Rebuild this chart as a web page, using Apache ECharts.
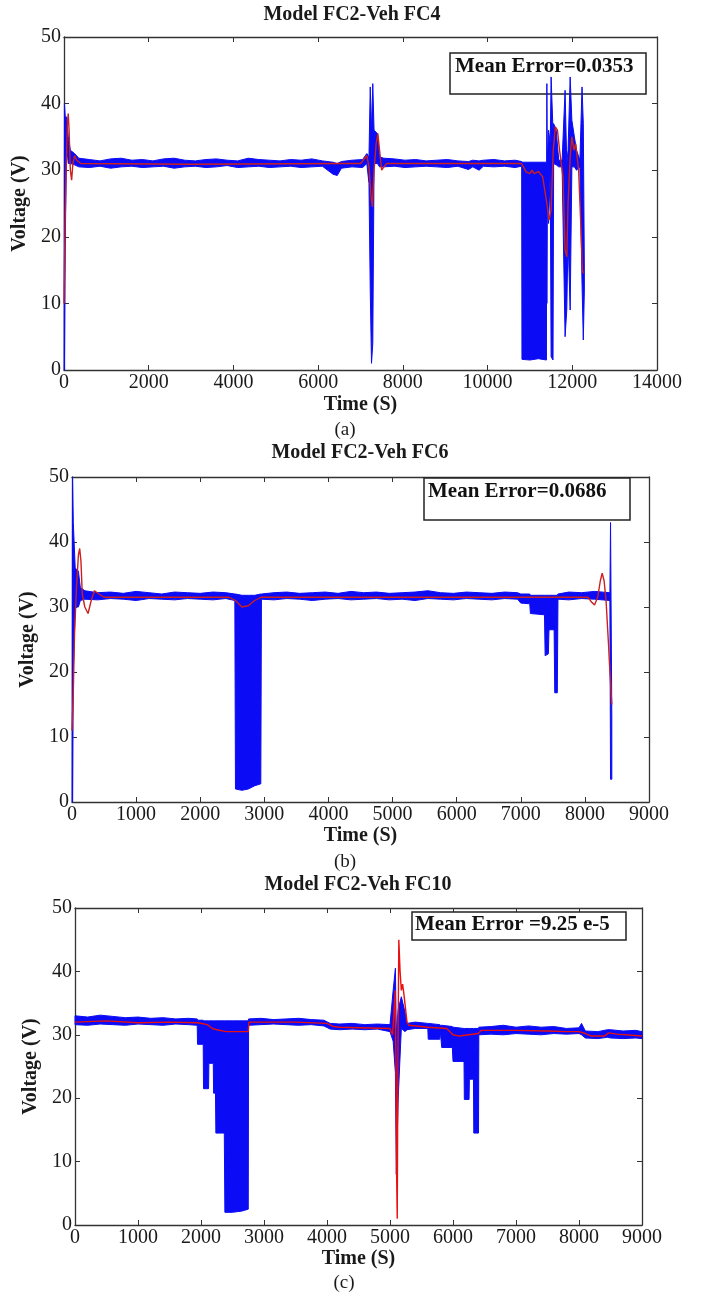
<!DOCTYPE html>
<html>
<head>
<meta charset="utf-8">
<script src="https://cdn.jsdelivr.net/npm/echarts@6/dist/echarts.min.js"></script>
<style>
  html, body { margin: 0; padding: 0; background: #fff; }
  #chart { width: 705px; height: 1295px; }
</style>
</head>
<body>
<div id="chart"></div>
<script>
// ---- (a) Model FC2-Veh FC4 ----
// measured voltage, drawn as lower / upper envelope of the noisy signal
const timeA = [0, 10, 30, 60, 100, 150, 250, 350,
  600, 850, 1100, 1350, 1600, 1850, 2100, 2350, 2600, 2850, 3100, 3350, 3600, 3850, 4100, 4350, 4600, 4850, 5100, 5350, 5600, 5850, 6100, 6350, 6450, 6550, 6800, 7050,
  7150, 7200, 7230, 7260, 7290, 7320, 7400, 7450, 7550,
  7800, 8050, 8300, 8550, 8800, 9050, 9300, 9550, 9650, 9800, 9900, 10150, 10400, 10650, 10805,
  10812, 11000, 11200, 11390,
  11395, 11400, 11410, 11440, 11480, 11500, 11545, 11560, 11620, 11680, 11760, 11830, 11870, 11900, 11950, 11990, 12050, 12100, 12180, 12230, 12260, 12285];
const lowA = [0, 0, 19, 34, 31, 31, 30.8, 30.5,
  30.4, 30.6, 30.3, 30.5, 30.6, 30.4, 30.5, 30.6, 30.3, 30.5, 30.6, 30.4, 30.5, 30.7, 30.4, 30.5, 30.6, 30.4, 30.5, 30.6, 30.4, 30.5, 30.6, 29.4, 29.2, 30.3, 30.5, 30.4,
  31, 28, 12, 1, 4, 31, 31, 30.5, 30.5,
  30.6, 30.4, 30.5, 30.6, 30.5, 30.4, 30.6, 30.1, 30.5, 30, 30.6, 30.5, 30.6, 30.4, 30.6,
  1.6, 1.5, 1.7, 1.5,
  30.5, 10, 25, 22, 30, 2, 1.5, 31, 30.8, 30.5, 30.5, 5, 9, 20, 9, 30.5, 30.5, 30, 30.5, 13, 4.5, 12];
const highA = [0, 40, 38, 38, 35, 33, 32.5, 31.8,
  31.6, 31.4, 31.7, 31.8, 31.5, 31.6, 31.4, 31.7, 31.8, 31.5, 31.4, 31.6, 31.7, 31.5, 31.4, 31.8, 31.6, 31.5, 31.4, 31.6, 31.5, 31.7, 31.4, 31.2, 31, 31.3, 31.5, 31.6,
  32.5, 32, 42.5, 36, 43, 36, 35.5, 32, 31.8,
  31.7, 31.5, 31.6, 31.4, 31.5, 31.6, 31.4, 31.3, 31.5, 31.4, 31.5, 31.6, 31.4, 31.5, 31.3,
  31.2, 31.2, 31.2, 31.2,
  31.2, 43, 31, 36, 34, 44, 36, 37, 36, 31.5, 31.5, 42, 31, 33, 44, 37.5, 35, 33, 31.5, 42.5, 37, 15];
// model output
const modelTimeA = [0, 20, 50, 80, 100, 120, 150, 180, 210, 250, 300, 400, 3000, 6500, 7000, 7100, 7150, 7200, 7250, 7280,
  7320, 7370, 7410, 7450, 7500, 7550, 7620, 10800, 10850, 10900, 11000, 11050, 11100, 11200, 11300, 11400, 11450, 11500, 11550, 11600,
  11650, 11700, 11780, 11830, 11870, 11900, 11950, 11990, 12040, 12080, 12150, 12200, 12240, 12260];
const modelA = [10, 20, 30, 37, 38.5, 36, 30, 28.5, 31, 32.2, 31.5, 31, 30.9, 31, 31, 31.8, 32.2, 30.5, 26, 24.5,
  30, 34, 35.5, 33, 30, 30.5, 31, 31, 30.5, 29.8, 29.5, 30, 29.5, 29.8, 29, 25, 22.5, 24, 33, 36.5,
  36, 33, 29, 18, 17, 25, 32, 35, 33, 34, 30, 22, 15, 14.5];

// ---- (b) Model FC2-Veh FC6 ----
const timeB = [0, 8, 20, 50, 100, 130, 200,
  400, 600, 800, 1000, 1200, 1400, 1600, 1800, 2000, 2200, 2400, 2540,
  2550, 2650, 2750, 2850, 2945,
  2955, 3150, 3350, 3550, 3750, 3950, 4150, 4350, 4550, 4750, 4950, 5150, 5350, 5550, 5750, 5950, 6150, 6350, 6550, 6750, 6950,
  7000, 7140, 7150, 7370, 7380, 7430, 7440, 7520, 7530, 7570, 7580,
  7750, 7950, 8150, 8390, 8400, 8420];
const lowB = [0, 0, 20, 30, 30, 31, 31.2,
  31.1, 31.3, 31.2, 31.0, 31.3, 31.2, 31.1, 31.3, 31.2, 31.1, 31.3, 31,
  2, 1.8, 2, 2.5, 2.8,
  31.2, 31.1, 31.3, 31.2, 31.0, 31.2, 31.3, 31.1, 31.2, 31.3, 31.1, 31.2, 31.0, 31.3, 31.2, 31.1, 31.3, 31.2, 31.1, 31.3, 31.2,
  30.6, 30.5, 29, 28.8, 22.5, 22.8, 26.5, 26.5, 16.8, 16.8, 31.2,
  31.1, 31.3, 31.2, 31, 3.5, 3.5];
const highB = [0, 50, 43, 36, 35.5, 33, 32.5,
  32.2, 32.3, 32.1, 32.4, 32.2, 32.0, 32.3, 32.2, 32.1, 32.3, 32.2, 32,
  32, 31.8, 31.8, 31.8, 32,
  32, 32.2, 32.3, 32.1, 32.2, 32.3, 32.1, 32.4, 32.2, 32.3, 32.1, 32.2, 32.3, 32.5, 32.2, 32.1, 32.3, 32.2, 32.1, 32.3, 32.2,
  32, 32, 31.8, 31.8, 31.8, 31.8, 31.8, 31.8, 31.8, 31.8, 32,
  32.3, 32.2, 32.4, 32.2, 43, 13];
const modelTimeB = [0, 20, 40, 70, 100, 120, 140, 160, 200, 250, 300, 350, 420, 500, 2450, 2550, 2650, 2750, 2850, 2950,
  8050, 8100, 8150, 8200, 8240, 8270, 8300, 8330, 8370, 8390, 8420];
const modelB = [11, 17, 26, 33, 38, 39, 37, 32, 30, 29, 31, 32.5, 32, 31.5, 31.5, 31, 30, 30.2, 31, 31.5,
  31.5, 30.8, 30.3, 31.5, 34, 35.2, 34, 31, 24, 20, 15];

// ---- (c) Model FC2-Veh FC10 ----
const timeC = [0, 200, 400, 600, 800, 1000, 1200, 1400, 1600, 1800, 1940,
  1945, 2035, 2040, 2120, 2125, 2195, 2200, 2230, 2236, 2370, 2379, 2500, 2650, 2750,
  2755, 2950, 3150, 3350, 3550, 3750, 3950, 4050, 4200, 4400, 4600, 4800, 5000,
  5050, 5086, 5100, 5130, 5180, 5240, 5270,
  5400, 5600, 5607, 5790, 5800, 5821, 5990, 6000, 6175, 6180, 6255, 6260, 6325, 6330, 6405, 6410,
  6600, 6800, 7000, 7200, 7400, 7600, 7800, 8000, 8040, 8100, 8300, 8450, 8500, 8700, 8900, 9000];
const lowC = [31.6, 31.5, 31.7, 31.6, 31.5, 31.7, 31.6, 31.5, 31.7, 31.6, 31.5,
  28.5, 28.5, 21.5, 21.5, 25.5, 25.5, 20.8, 20.8, 14.5, 14.5, 2, 2, 2.2, 2.5,
  31.5, 31.6, 31.7, 31.6, 31.5, 31.6, 31.4, 30.9, 30.8, 30.9, 30.8, 30.9, 30.5,
  29, 24, 8, 20, 31, 30.5, 30.8,
  31, 31, 29.3, 29.3, 30.5, 28, 28, 25.8, 25.8, 19.8, 19.8, 23, 23, 14.5, 14.5, 30,
  30.1, 30, 30.2, 30.1, 30, 30.2, 30.1, 30.2, 30, 29.5, 29.4, 29.6, 29.5, 29.4, 29.5, 29.4];
const highC = [33, 32.8, 33.1, 32.9, 32.7, 32.8, 32.6, 32.7, 32.5, 32.6, 32.5,
  32.3, 32.3, 32.2, 32.2, 32.2, 32.2, 32.2, 32.2, 32.2, 32.2, 32.2, 32.2, 32.2, 32.2,
  32.5, 32.6, 32.4, 32.5, 32.6, 32.4, 32.3, 31.8, 31.7, 31.8, 31.6, 31.7, 31.6,
  37, 40.5, 30, 34, 36, 33.5, 31.8,
  32, 31.8, 31.8, 31.6, 31.5, 31.5, 31.3, 31.2, 31.0, 31.0, 31.0, 31.0, 31.0, 31.0, 31.0, 31.2,
  31.3, 31.5, 31.2, 31.4, 31.2, 31.3, 31.0, 31.1, 31.8, 30.6, 30.5, 30.8, 30.8, 30.6, 30.7, 30.5];
const modelTimeC = [0, 500, 1000, 1500, 1950, 2100, 2180, 2250, 2400, 2750, 2760, 3500, 4000, 4100, 4200, 5000, 5040, 5060, 5080, 5095,
  5105, 5115, 5125, 5140, 5160, 5180, 5200, 5220, 5250, 5270, 5300, 5600, 5900, 6000, 6100, 6400, 6450, 7000, 7500, 7800,
  8000, 8100, 8200, 8400, 8470, 8600, 9000];
const modelC = [32, 32.2, 31.9, 32, 31.9, 31.6, 31, 30.8, 30.5, 30.5, 32, 32, 31.8, 31.3, 31.2, 31, 30, 33, 37, 25,
  8, 1, 25, 45, 40, 37, 38, 36.5, 36.5, 32, 31.5, 31.2, 31, 30, 29.8, 30.2, 30.7, 30.7, 30.6, 30.5,
  30.5, 30.2, 29.8, 29.8, 30.3, 30.1, 29.8];

const titles = ['Model FC2-Veh FC4', 'Model FC2-Veh FC6', 'Model FC2-Veh FC10'];
const errorTexts = ['Mean Error=0.0353', 'Mean Error=0.0686', 'Mean Error =9.25 e-5'];
const captions = ['(a)', '(b)', '(c)'];
const xMaxes = [14000, 9000, 9000];
const xSteps = [2000, 1000, 1000];

const FONT = '"Liberation Serif", "Times New Roman", serif';
const BLUE = '#0b0bf5';
const RED = '#cc1f1f';
const AXIS = '#333';

// layout of the three panels (pixels)
const panels = [
  { left: 64, top: 37, width: 593, height: 333, xGap: 25, yGap: 27, title: [352, 15], cap: [345, 430],
    box: [450, 53, 196, 41], boxText: [455, 67], red: RED },
  { left: 72, top: 477, width: 577, height: 325, xGap: 21, yGap: 28, title: [360, 453], cap: [345, 862],
    box: [424, 478, 206, 42], boxText: [428, 492], red: RED },
  { left: 75, top: 908, width: 567, height: 317, xGap: 20, yGap: 29, title: [358, 885], cap: [344, 1283],
    box: [412, 912, 214, 28], boxText: [415, 925], red: '#e81010' }
];

const bands = [[timeA, lowA, highA], [timeB, lowB, highB], [timeC, lowC, highC]];
const models = [[modelTimeA, modelA], [modelTimeB, modelB], [modelTimeC, modelC]];

const grid = [], xAxis = [], yAxis = [], series = [], graphic = [];

function plain(v) { return String(v); }

panels.forEach(function (p, k) {
  grid.push({ left: p.left, top: p.top, width: p.width, height: p.height, containLabel: false, outerBoundsMode: 'none' });

  const tick = { show: true, inside: true, length: 5, lineStyle: { color: AXIS, width: 1 } };
  const line = { show: true, onZero: false, lineStyle: { color: AXIS, width: 1.3 } };

  xAxis.push({
    gridIndex: k, type: 'value', min: 0, max: xMaxes[k], interval: xSteps[k],
    axisLine: line, axisTick: tick, splitLine: { show: false },
    axisLabel: { fontFamily: FONT, fontSize: 20, color: '#1a1a1a', margin: 3, formatter: plain },
    name: 'Time (S)', nameLocation: 'middle', nameGap: p.xGap,
    nameTextStyle: { fontFamily: FONT, fontSize: 20, fontWeight: 'bold', color: '#1a1a1a' }
  });
  xAxis.push({
    gridIndex: k, type: 'value', position: 'top', min: 0, max: xMaxes[k], interval: xSteps[k],
    axisLine: line, axisTick: tick, axisLabel: { show: false }, splitLine: { show: false }
  });
  yAxis.push({
    gridIndex: k, type: 'value', min: 0, max: 50, interval: 10,
    axisLine: line, axisTick: tick, splitLine: { show: false },
    axisLabel: { fontFamily: FONT, fontSize: 20, color: '#1a1a1a', margin: 3, formatter: plain },
    name: 'Voltage (V)', nameLocation: 'middle', nameGap: p.yGap,
    nameTextStyle: { fontFamily: FONT, fontSize: 20, fontWeight: 'bold', color: '#1a1a1a' }
  });
  yAxis.push({
    gridIndex: k, type: 'value', position: 'right', min: 0, max: 50, interval: 10,
    axisLine: line, axisTick: tick, axisLabel: { show: false }, splitLine: { show: false }
  });

  const t = bands[k][0], lo = bands[k][1], hi = bands[k][2];
  series.push({
    type: 'custom',
    xAxisIndex: 2 * k, yAxisIndex: 2 * k,
    silent: true,
    z: 2,
    data: t.map(function (x, i) { return [x, lo[i], hi[i]]; }),
    encode: { x: 0, y: [1, 2] },
    renderItem: function (params, api) {
      if (params.dataIndex !== 0) return null;
      const pts = [];
      for (let i = 0; i < t.length; i++) pts.push(api.coord([t[i], hi[i]]));
      for (let i = t.length - 1; i >= 0; i--) pts.push(api.coord([t[i], lo[i]]));
      return {
        type: 'polygon',
        shape: { points: pts },
        style: { fill: BLUE, stroke: BLUE, lineWidth: 1 }
      };
    }
  });

  const mt = models[k][0], mv = models[k][1];
  series.push({
    type: 'line',
    xAxisIndex: 2 * k, yAxisIndex: 2 * k,
    data: mt.map(function (x, i) { return [x, mv[i]]; }),
    showSymbol: false, silent: true, z: 3,
    lineStyle: { color: p.red, width: 1.4 }
  });

  graphic.push({
    type: 'text', x: p.title[0], y: p.title[1], z: 10,
    style: { text: titles[k], font: 'bold 20px ' + FONT, fill: '#1a1a1a',
      textAlign: 'center', textVerticalAlign: 'middle', align: 'center', verticalAlign: 'middle' }
  });
  graphic.push({
    type: 'text', x: p.cap[0], y: p.cap[1], z: 10,
    style: { text: captions[k], font: '19px ' + FONT, fill: '#1a1a1a',
      textAlign: 'center', textVerticalAlign: 'middle', align: 'center', verticalAlign: 'middle' }
  });
  graphic.push({
    type: 'rect', z: 1,
    shape: { x: p.box[0], y: p.box[1], width: p.box[2], height: p.box[3] },
    style: { fill: '#fff', stroke: '#222', lineWidth: 1.5 }
  });
  graphic.push({
    type: 'text', x: p.boxText[0], y: p.boxText[1], z: 1,
    style: { text: errorTexts[k], font: 'bold 21px ' + FONT, fill: '#111',
      textAlign: 'left', textVerticalAlign: 'middle', align: 'left', verticalAlign: 'middle' }
  });
});

const chart = echarts.init(document.getElementById('chart'), null, { renderer: 'canvas' });
chart.setOption({
  backgroundColor: '#fff',
  animation: false,
  grid: grid,
  xAxis: xAxis,
  yAxis: yAxis,
  series: series,
  graphic: graphic
});
</script>
</body>
</html>
